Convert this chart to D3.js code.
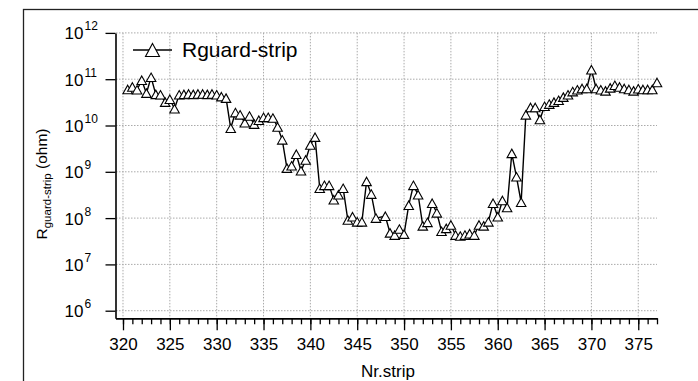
<!DOCTYPE html>
<html>
<head>
<meta charset="utf-8">
<script src="https://cdn.jsdelivr.net/npm/d3@7"></script>
<style>
    body { margin: 0; background: #fff; }
    svg { font-family: "Liberation Sans", Arial, sans-serif; }
</style>
</head>
<body>
<svg width="698" height="381"></svg>
<script>
// strip numbers (half steps, 347.5 missing in the measurement)
var strips = [320.5, 321, 321.5, 322, 322.5, 323, 323.5, 324, 324.5, 325, 325.5, 326, 326.5, 327, 327.5, 328, 328.5, 329, 329.5, 330, 330.5, 331,
    331.5, 332, 332.5, 333, 333.5, 334, 334.5, 335, 335.5, 336, 336.5, 337, 337.5, 338, 338.5, 339, 339.5, 340, 340.5,
    341, 341.5, 342, 342.5, 343, 343.5, 344, 344.5, 345, 345.5, 346, 346.5, 347,
    348, 348.5, 349, 349.5, 350, 350.5, 351, 351.5, 352, 352.5, 353, 353.5, 354, 354.5, 355, 355.5, 356, 356.5, 357, 357.5,
    358, 358.5, 359, 359.5, 360, 360.5, 361, 361.5, 362, 362.5,
    363, 363.5, 364, 364.5, 365, 365.5, 366, 366.5, 367, 367.5, 368, 368.5, 369, 369.5, 370, 370.5, 371, 371.5, 372, 372.5,
    373, 373.5, 374, 374.5, 375, 375.5, 376, 376.5, 377];

// R guard-strip in ohm
var rGuard = [6.0e10, 6.8e10, 5.9e10, 9.5e10, 5.0e10, 1.1e11, 4.7e10, 4.6e10, 3.2e10, 3.7e10, 2.3e10, 4.6e10, 4.7e10, 4.8e10, 4.7e10, 4.8e10, 4.8e10, 4.7e10, 4.8e10, 4.6e10, 4.2e10, 3.9e10,
    8.7e9, 1.9e10, 1.7e10, 1.15e10, 1.6e10, 1.07e10, 1.3e10, 1.5e10, 1.5e10, 1.45e10, 9.3e9, 4.9e9, 1.2e9, 1.35e9, 2.4e9, 1.05e9, 1.8e9, 3.8e9, 5.6e9,
    4.4e8, 5.1e8, 5.1e8, 2.5e8, 3.2e8, 4.4e8, 9.1e7, 1.07e8, 8.3e7, 8.3e7, 6.2e8, 3.3e8, 1.0e8,
    1.1e8, 4.8e7, 4.3e7, 5.8e7, 4.5e7, 1.9e8, 5.1e8, 3.2e8, 6.8e7, 8.1e7, 2.1e8, 1.3e8, 5.2e7, 6.0e7, 7.1e7, 4.3e7, 4.1e7, 4.3e7, 4.6e7, 4.3e7,
    7.1e7, 6.8e7, 8.3e7, 2.1e8, 1.07e8, 2.4e8, 1.7e8, 2.5e9, 7.8e8, 2.2e8,
    1.7e10, 2.45e10, 2.45e10, 1.35e10, 2.6e10, 2.9e10, 3.2e10, 3.5e10, 4.1e10, 4.6e10, 5.4e10, 5.9e10, 6.3e10, 6.3e10, 1.6e11, 6.3e10, 5.9e10, 5.6e10, 6.5e10, 7.4e10,
    6.8e10, 6.3e10, 6.0e10, 5.6e10, 6.2e10, 6.0e10, 6.0e10, 6.0e10, 8.5e10];

var xMajor = [320, 325, 330, 335, 340, 345, 350, 355, 360, 365, 370, 375];
var yDecades = [6, 7, 8, 9, 10, 11, 12];
var seriesName = "Rguard-strip";

var svg = d3.select("svg");

// outer frame of the graph page (runs off the right and bottom edges)
svg.append("rect")
    .attr("x", 23.5).attr("y", 9.5)
    .attr("width", 700).attr("height", 400)
    .attr("fill", "none").attr("stroke", "#222").attr("stroke-width", 1.3);

var x = d3.scaleLinear().domain([319.2, 377]).range([115.5, 657]);
var y = d3.scaleLog().domain([Math.pow(10, 5.836), 1e12]).range([318.3, 32.9]);

// dotted grid
var grid = svg.append("g").attr("stroke", "#aaa").attr("stroke-width", 1).attr("stroke-dasharray", "1.5,1.5");
grid.selectAll(".gx").data(xMajor).enter().append("line")
    .attr("x1", (d) => x(d)).attr("x2", (d) => x(d))
    .attr("y1", y(1e12)).attr("y2", 318);
grid.selectAll(".gy").data(yDecades).enter().append("line")
    .attr("x1", 116).attr("x2", 657)
    .attr("y1", (d) => y(Math.pow(10, d))).attr("y2", (d) => y(Math.pow(10, d)));

// x axis: minor ticks every strip, major every 5
var minorTicks = d3.range(320, 378);
var xMinor = svg.append("g").attr("transform", "translate(0,318.3)")
    .call(d3.axisBottom(x).tickValues(minorTicks).tickSize(6).tickSizeOuter(0).tickFormat(""));
var xAxis = svg.append("g").attr("transform", "translate(0,318.3)")
    .call(d3.axisBottom(x).tickValues(xMajor).tickSize(12).tickSizeOuter(0).tickPadding(8));
xAxis.selectAll("text").attr("font-size", 17).attr("fill", "#000").attr("font-family", "Liberation Sans, Arial, sans-serif");
svg.selectAll(".domain").attr("stroke", "#000").attr("stroke-width", 1.6);
svg.selectAll(".tick line").attr("stroke", "#000").attr("stroke-width", 1.3);

// y axis with 10^n labels
var yAxis = svg.append("g").attr("transform", "translate(115.5,0)")
    .call(d3.axisLeft(y).tickValues(yDecades.map((d) => Math.pow(10, d))).tickSize(10).tickSizeOuter(0).tickFormat(""));
yAxis.select(".domain").attr("stroke", "#000").attr("stroke-width", 1.6);
yAxis.selectAll(".tick line").attr("stroke", "#000").attr("stroke-width", 1.3);
yAxis.selectAll(".tick").each(function (d) {
    var t = d3.select(this);
    t.append("text").attr("x", -32).attr("y", 6).attr("text-anchor", "end")
        .attr("font-size", 17).attr("fill", "#000").text("10");
    t.append("text").attr("x", -31).attr("y", -3).attr("text-anchor", "start")
        .attr("font-size", 12).attr("fill", "#000").text(Math.round(Math.log10(d)));
});

// axis titles
svg.append("text").attr("x", 388).attr("y", 377).attr("text-anchor", "middle")
    .attr("font-size", 17).text("Nr.strip");
var yt = svg.append("text").attr("transform", "translate(47,184) rotate(-90)").attr("text-anchor", "middle")
    .attr("font-size", 15.5);
yt.append("tspan").text("R");
yt.append("tspan").attr("font-size", 11.5).attr("dy", 4).text("guard-strip");
yt.append("tspan").attr("dy", -4).text(" (ohm)");

// series
var data = strips.map((s, i) => ({ s: s, v: rGuard[i] }));
var line = d3.line().x((d) => x(d.s)).y((d) => y(d.v));
svg.append("path").datum(data)
    .attr("d", line).attr("fill", "none").attr("stroke", "#000").attr("stroke-width", 1.4);

function tri(w, h) {
    return "M0," + (-h / 2) + "L" + (w / 2) + "," + (h / 2) + "L" + (-w / 2) + "," + (h / 2) + "Z";
}

svg.append("g").selectAll("path").data(data).enter().append("path")
    .attr("d", tri(9.5, 8.5))
    .attr("transform", (d) => "translate(" + x(d.s) + "," + y(d.v) + ")")
    .attr("fill", "#fff").attr("stroke", "#000").attr("stroke-width", 1.1);

// legend
var lg = svg.append("g");
lg.append("line").attr("x1", 133).attr("x2", 172).attr("y1", 50).attr("y2", 50)
    .attr("stroke", "#000").attr("stroke-width", 1.4);
lg.append("path").attr("d", tri(14, 13)).attr("transform", "translate(152.5,50)")
    .attr("fill", "#fff").attr("stroke", "#000").attr("stroke-width", 1.1);
lg.append("text").attr("x", 182).attr("y", 57).attr("font-size", 21).text(seriesName);
</script>
</body>
</html>
